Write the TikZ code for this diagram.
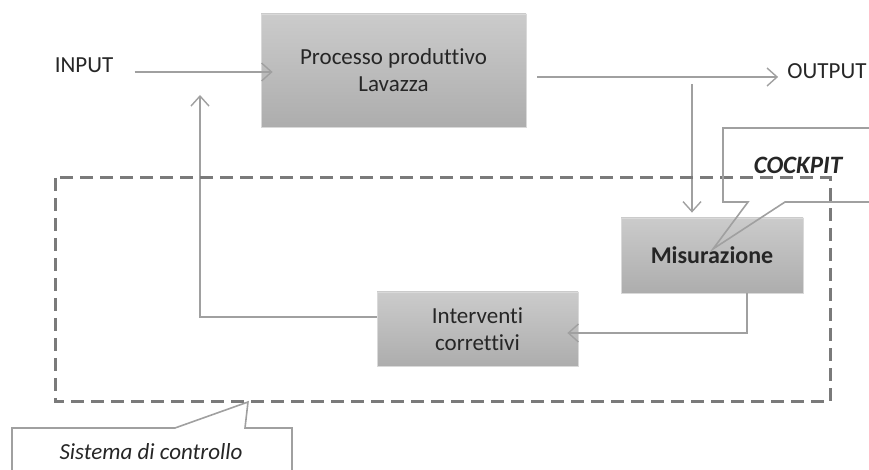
\documentclass[tikz,border=0pt]{standalone}
\usepackage{fontspec}
\setmainfont{Carlito}[Ligatures={NoCommon}]
\usetikzlibrary{arrows.meta}

\definecolor{boxtop}{HTML}{CBCBCB}
\definecolor{boxbot}{HTML}{ADADAD}
\definecolor{lineg}{HTML}{A0A0A0}
\definecolor{dashg}{HTML}{7A7A7A}
\definecolor{txt}{HTML}{262626}

\begin{document}
\begin{tikzpicture}[x=0.5pt,y=-0.5pt,font=\fontsize{11.5}{13.5}\selectfont,text=txt]
	\tikzstyle{block} = [rectangle, draw=black!15, top color=boxtop, bottom color=boxbot, align=center, inner sep=0pt]
	\tikzstyle{flow} = [draw=lineg, line width=0.8pt, -{Straight Barb[length=5pt,width=9pt,line width=0.7pt]}]
	\tikzstyle{wire} = [draw=lineg, line width=0.8pt]
	\tikzstyle{annot} = [inner sep=0pt]

	\useasboundingbox (0,0) rectangle (869,470);

	%%% DRAW THE BLOCKS
	\node[block, minimum width=132.5pt, minimum height=56.5pt] (proc) at (393.5,70.5) {Processo produttivo\\Lavazza};
	\node[block, minimum width=91pt, minimum height=37.5pt, font=\fontsize{12}{14}\selectfont\bfseries] (mis) at (712,255.5) {Misurazione};
	\node[block, minimum width=100.5pt, minimum height=37pt] (int) at (477.5,329) {Interventi\\correttivi};

	\node[annot] (in) at (84,65) {INPUT};
	\node[annot] (out) at (827,71) {OUTPUT};

	%%% DRAW THE PATHS
	\coordinate (tap) at (692,84);
	\coordinate (fb) at (200,95);
	\draw[flow, shorten >=-6pt] ([xshift=10.5pt,yshift=-3.5pt]in.east) -- ([yshift=-0.75pt]proc.west);
	\draw[flow, shorten <=5.5pt] ([yshift=-3.25pt]proc.east) -- ([xshift=-4.5pt,yshift=-3pt]out.west);
	\draw[flow, shorten >=2.5pt] (tap) -- (tap |- mis.north);
	\draw[flow, shorten >=-5.5pt] ([xshift=17.5pt]mis.south) |- ([yshift=-2pt]int.east);
	\draw[flow] ([yshift=6pt]int.west) -| (fb);

	%%% CONTROL SYSTEM
	\draw[dashg, line width=1.5pt, dash pattern=on 6.5pt off 3.5pt] (55,178) rectangle (830,402);

	%%% ANOTATE
	\coordinate (cockpittip) at (713,249);
	\draw[wire] (880,202) -- (785,202) -- (cockpittip) -- (748,202) -- (723,202) -- (723,128) -- (880,128);
	\node[annot, font=\fontsize{12.5}{14}\selectfont\bfseries\itshape] (cockpit) at (798,165) {COCKPIT};

	\coordinate (systip) at (248,402);
	\draw[wire] (12,480) -- (12,428) -- (175,428) -- (systip) -- (245,428) -- (292,428) -- (292,480);
	\node[annot, font=\fontsize{11.5}{13.5}\selectfont\itshape] (sys) at (151,452) {Sistema di controllo};
\end{tikzpicture}
\end{document}
